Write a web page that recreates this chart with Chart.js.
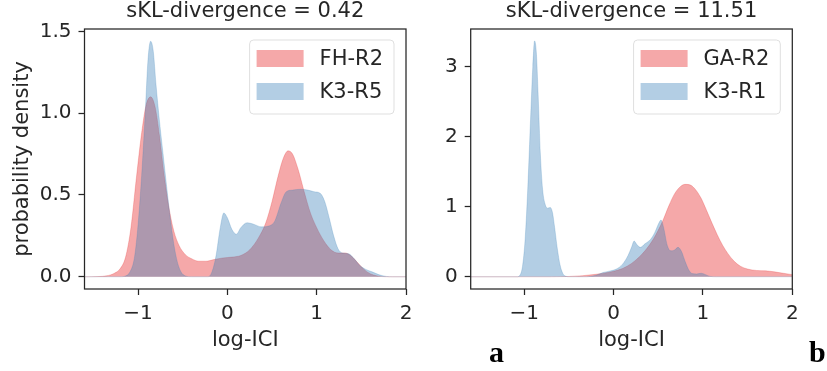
<!DOCTYPE html>
<html>
<head>
<meta charset="utf-8">
<script src="https://cdn.jsdelivr.net/npm/chart.js@4"></script>
<style>
  html, body { margin:0; padding:0; background:#fff; }
  #wrap { position:relative; width:827px; height:371px; overflow:hidden; }
  canvas { position:absolute; top:0; }
  .panel { position:absolute; font-family:"Liberation Serif", serif; font-weight:bold; font-size:30px; line-height:30px; color:#000; }
</style>
</head>
<body>
<div id="wrap">
  <canvas id="c1" width="420" height="371" style="left:0px;width:420px;height:371px"></canvas>
  <canvas id="c2" width="407" height="371" style="left:420px;width:407px;height:371px"></canvas>
  <span class="panel" style="left:489px;top:337px">a</span>
  <span class="panel" style="left:809px;top:337px">b</span>
</div>
<script>
// ---------- data ----------
const titleA = "sKL-divergence = 0.42";
const titleB = "sKL-divergence = 11.51";
const xTicks = [-1, 0, 1, 2];
const xTickLabels = ["\u22121", "0", "1", "2"];
const yTicksA = [0, 0.5, 1.0, 1.5];
const yTickLabelsA = ["0.0", "0.5", "1.0", "1.5"];
const yTicksB = [0, 1, 2, 3];
const yTickLabelsB = ["0", "1", "2", "3"];

// panel a, FH-R2
const fhR2X = [-1.6,-1.45,-1.35,-1.27,-1.2,-1.14,-1.08,-1.02,-0.96,-0.91,-0.86,-0.81,-0.76,-0.71,-0.66,-0.6,-0.54,-0.47,-0.4,-0.32,-0.24,-0.15,-0.05,0.05,0.15,0.25,0.35,0.43,0.5,0.57,0.63,0.68,0.73,0.79,0.86,0.93,1.0,1.08,1.16,1.24,1.32,1.39,1.46,1.53,1.6,1.68,1.78,2.0];
const fhR2Y = [0,0.001,0.006,0.02,0.05,0.12,0.3,0.6,0.88,1.05,1.10,1.04,0.86,0.63,0.44,0.28,0.19,0.135,0.11,0.095,0.095,0.105,0.115,0.12,0.13,0.165,0.24,0.33,0.46,0.62,0.73,0.77,0.75,0.66,0.52,0.39,0.3,0.22,0.165,0.145,0.145,0.125,0.085,0.045,0.018,0.005,0,0];
// panel a, K3-R5
const k3R5X = [-1.6,-1.2,-1.14,-1.09,-1.04,-1.0,-0.96,-0.92,-0.89,-0.86,-0.83,-0.8,-0.76,-0.72,-0.68,-0.64,-0.6,-0.56,-0.52,-0.47,-0.4,-0.22,-0.18,-0.13,-0.08,-0.04,0.0,0.05,0.1,0.15,0.22,0.3,0.38,0.46,0.53,0.6,0.66,0.73,0.82,0.9,0.97,1.04,1.09,1.14,1.19,1.24,1.29,1.36,1.42,1.48,1.55,1.62,1.7,1.78,1.85,2.0];
const k3R5Y = [0,0,0.005,0.03,0.12,0.32,0.62,1.0,1.32,1.44,1.38,1.18,0.95,0.75,0.55,0.36,0.2,0.09,0.03,0.005,0,0,0.02,0.12,0.3,0.39,0.36,0.29,0.26,0.3,0.33,0.32,0.305,0.31,0.34,0.45,0.52,0.53,0.535,0.53,0.52,0.51,0.46,0.36,0.25,0.17,0.145,0.14,0.11,0.07,0.045,0.03,0.012,0.002,0,0];

// panel b, GA-R2
const gaR2X = [-1.6,-0.7,-0.5,-0.35,-0.2,-0.05,0.05,0.15,0.25,0.35,0.45,0.55,0.62,0.68,0.74,0.8,0.86,0.92,0.98,1.04,1.1,1.16,1.22,1.28,1.35,1.42,1.5,1.6,1.7,1.8,1.9,2.0];
const gaR2Y = [0,0,0.004,0.015,0.035,0.065,0.095,0.15,0.24,0.37,0.55,0.8,1.02,1.18,1.28,1.32,1.31,1.24,1.12,0.95,0.77,0.6,0.45,0.33,0.22,0.15,0.11,0.09,0.085,0.07,0.05,0.03];
// panel b, K3-R1
const k3R1X = [-1.6,-1.08,-1.05,-1.02,-0.99,-0.96,-0.93,-0.905,-0.885,-0.865,-0.845,-0.82,-0.795,-0.77,-0.74,-0.71,-0.685,-0.66,-0.63,-0.6,-0.57,-0.54,-0.5,-0.3,-0.2,-0.12,-0.05,0.03,0.1,0.16,0.2,0.23,0.26,0.3,0.35,0.41,0.46,0.5,0.53,0.56,0.6,0.64,0.68,0.72,0.76,0.8,0.84,0.88,0.93,0.98,1.03,1.08,1.15,2.0];
const k3R1Y = [0,0,0.02,0.15,0.55,1.3,2.25,3.0,3.37,3.2,2.6,1.75,1.25,1.05,0.98,0.99,0.92,0.7,0.4,0.17,0.05,0.01,0,0,0.02,0.06,0.08,0.11,0.18,0.3,0.42,0.51,0.46,0.42,0.47,0.53,0.63,0.75,0.81,0.7,0.45,0.37,0.38,0.42,0.36,0.22,0.1,0.045,0.04,0.05,0.03,0.005,0,0];

const RED_FILL = "rgba(228,26,28,0.38)";
const RED_EDGE = "rgba(228,26,28,0.22)";
const BLUE_FILL = "rgba(55,126,184,0.38)";
const BLUE_EDGE = "rgba(55,126,184,0.22)";
const TEXT = "#262626";
const FONT = "DejaVu Sans";

Chart.defaults.font.family = FONT;
Chart.defaults.color = TEXT;

function pts(xs, ys) { return xs.map((x, i) => ({x: x, y: ys[i]})); }

const boxPlugin = {
  id: 'boxAndLegend',
  afterDatasetsDraw(chart) {
    const ctx = chart.ctx, a = chart.chartArea;
    ctx.save();
    ctx.strokeStyle = TEXT;
    ctx.lineWidth = 1.25;
    ctx.strokeRect(a.left, a.top, a.right - a.left, a.bottom - a.top);
    // legend (matplotlib style)
    const ds = chart.data.datasets.slice().sort((p, q) => p.legendIndex - q.legendIndex);
    ctx.font = "21px " + FONT;
    const tw = Math.max(...ds.map(d => ctx.measureText(d.label).width));
    const w = 7 + 47 + 16 + tw + 11, h = 74;
    const x0 = a.right - 12 - w, y0 = a.top + 11;
    const r = 4;
    ctx.beginPath();
    ctx.moveTo(x0 + r, y0);
    ctx.arcTo(x0 + w, y0, x0 + w, y0 + h, r);
    ctx.arcTo(x0 + w, y0 + h, x0, y0 + h, r);
    ctx.arcTo(x0, y0 + h, x0, y0, r);
    ctx.arcTo(x0, y0, x0 + w, y0, r);
    ctx.closePath();
    ctx.fillStyle = "rgba(255,255,255,0.8)";
    ctx.fill();
    ctx.strokeStyle = "rgba(220,220,220,0.9)";
    ctx.lineWidth = 1;
    ctx.stroke();
    ds.forEach((d, i) => {
      const cy = y0 + 18.5 + i * 33;
      ctx.fillStyle = d.backgroundColor;
      ctx.fillRect(x0 + 7, cy - 8.5, 47, 17);
      ctx.fillStyle = TEXT;
      ctx.textBaseline = "middle";
      ctx.textAlign = "left";
      ctx.fillText(d.label, x0 + 7 + 47 + 16, cy + 1);
    });
    ctx.restore();
  }
};

function makeChart(id, title, redLabel, redX, redY, blueLabel, blueX, blueY, yMin, yMax, yTicks, yLabels, yTitle, yWidth, padRight) {
  return new Chart(document.getElementById(id), {
    type: 'line',
    data: {
      datasets: [
        { label: redLabel, legendIndex: 0, order: 2, data: pts(redX, redY),
          backgroundColor: RED_FILL, borderColor: RED_EDGE, borderWidth: 1,
          fill: 'origin', pointRadius: 0, cubicInterpolationMode: 'monotone' },
        { label: blueLabel, legendIndex: 1, order: 1, data: pts(blueX, blueY),
          backgroundColor: BLUE_FILL, borderColor: BLUE_EDGE, borderWidth: 1,
          fill: 'origin', pointRadius: 0, cubicInterpolationMode: 'monotone' }
      ]
    },
    options: {
      responsive: false,
      animation: false,
      devicePixelRatio: 1,
      events: [],
      layout: { padding: { left: 0, right: padRight, top: 0, bottom: 0 } },
      plugins: {
        legend: { display: false },
        tooltip: { enabled: false },
        title: { display: true, text: title, fullSize: false, color: TEXT,
                 font: { size: 21, weight: 'normal', lineHeight: 1 },
                 padding: { top: 0.6, bottom: 7.4 } }
      },
      scales: {
        x: {
          type: 'linear', min: -1.6, max: 2,
          afterFit: s => { s.height = 82; },
          afterBuildTicks: s => { s.ticks = xTicks.map(v => ({value: v})); },
          ticks: { callback: v => xTickLabels[xTicks.indexOf(v)], font: { size: 20 }, padding: 7,
                   maxRotation: 0, autoSkip: false, color: TEXT },
          grid: { drawOnChartArea: false, drawTicks: true, tickLength: 6, tickColor: TEXT, tickWidth: 1.25 },
          border: { display: false },
          title: { display: true, text: 'log-ICI', color: TEXT, font: { size: 21, lineHeight: 1 },
                   padding: { top: 0, bottom: 19.5 } }
        },
        y: {
          type: 'linear', min: yMin, max: yMax,
          afterFit: s => { s.width = yWidth; },
          afterBuildTicks: s => { s.ticks = yTicks.map(v => ({value: v})); },
          ticks: { callback: v => yLabels[yTicks.indexOf(v)], font: { size: 20 }, padding: 7, color: TEXT },
          grid: { drawOnChartArea: false, drawTicks: true, tickLength: 6, tickColor: TEXT, tickWidth: 1.25 },
          border: { display: false },
          title: { display: !!yTitle, text: yTitle || '', color: TEXT, font: { size: 21, lineHeight: 1 },
                   padding: { top: 12, bottom: 0 } }
        }
      }
    },
    plugins: [boxPlugin]
  });
}

makeChart('c1', titleA, 'FH-R2', fhR2X, fhR2Y, 'K3-R5', k3R5X, k3R5Y,
          -0.075, 1.515, yTicksA, yTickLabelsA, 'probability density', 84.5, 14);
makeChart('c2', titleB, 'GA-R2', gaR2X, gaR2Y, 'K3-R1', k3R1X, k3R1Y,
          -0.175, 3.54, yTicksB, yTickLabelsB, null, 50.7, 34.7);
</script>
</body>
</html>
